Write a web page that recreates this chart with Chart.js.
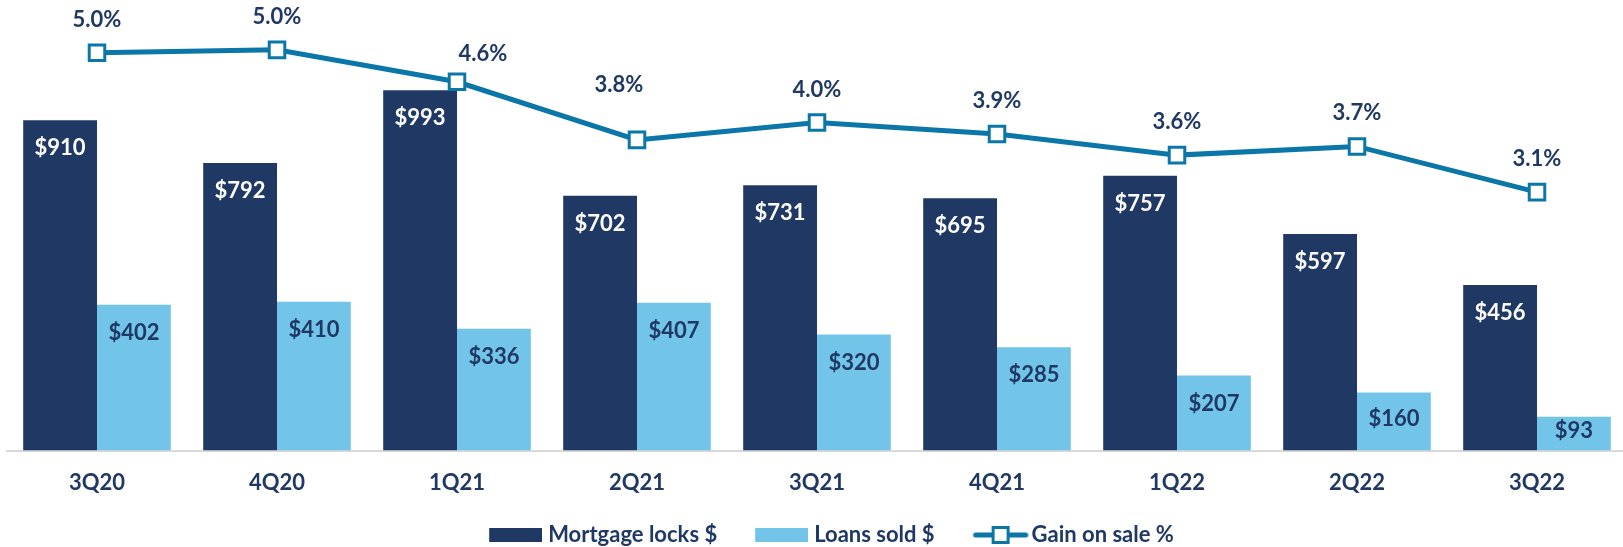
<!DOCTYPE html>
<html>
<head>
<meta charset="utf-8">
<script src="https://cdn.jsdelivr.net/npm/chart.js@4/dist/chart.umd.min.js"></script>
<style>
  html, body { margin: 0; padding: 0; background: #fff; overflow: hidden; }
  #wrap { width: 1640px; height: 547px; }
</style>
</head>
<body>
<div id="wrap"><canvas id="chart"></canvas></div>
<script>
// data
const quarters = ['3Q20', '4Q20', '1Q21', '2Q21', '3Q21', '4Q21', '1Q22', '2Q22', '3Q22'];
const mortgageLocks = [910, 792, 993, 702, 731, 695, 757, 597, 456];
const loansSold = [402, 410, 336, 407, 320, 285, 207, 160, 93];
const gainOnSale = [4.98, 5.02, 4.58, 3.78, 4.02, 3.86, 3.57, 3.69, 3.06];

const NAVY = '#1f3864';
const LIGHT = '#72c5e8';
const LINE = '#0b76a8';
const FONT = 'Lato, "Open Sans", sans-serif';

// a couple of % labels were nudged by hand on the slide
const pctLabelShift = { 2: [26, -28], 3: [-18, -55] };

// legend icons: transparent space on the left gives the gap between items
const ICON_W = 77;

function boxIcon(color) {
  const c = document.createElement('canvas');
  c.width = ICON_W + 10; c.height = 14;
  const g = c.getContext('2d');
  g.fillStyle = color;
  g.fillRect(c.width - 53, 0, 53, 14);
  return c;
}

function lineIcon() {
  const c = document.createElement('canvas');
  c.width = ICON_W + 16; c.height = 20;
  const g = c.getContext('2d');
  const x0 = c.width - 56;
  g.strokeStyle = LINE;
  g.lineWidth = 5;
  g.lineCap = 'round';
  g.beginPath(); g.moveTo(x0 + 3, 10); g.lineTo(x0 + 53, 10); g.stroke();
  g.fillStyle = '#fff';
  g.lineWidth = 3;
  g.fillRect(x0 + 20.5, 2.5, 15, 15);
  g.strokeRect(x0 + 20.5, 2.5, 15, 15);
  return c;
}

const legendIcons = [boxIcon(NAVY), boxIcon(LIGHT), lineIcon()];

const valueLabels = {
  id: 'valueLabels',
  afterDatasetsDraw(chart) {
    const ctx = chart.ctx;
    ctx.save();
    ctx.font = 'bold 22px ' + FONT;
    ctx.textAlign = 'center';
    ctx.textBaseline = 'middle';
    chart.data.datasets.forEach((ds, i) => {
      const meta = chart.getDatasetMeta(i);
      meta.data.forEach((el, j) => {
        const v = ds.data[j];
        if (meta.type === 'bar') {
          const h = el.base - el.y;
          ctx.fillStyle = i === 0 ? '#ffffff' : NAVY;
          ctx.fillText('$' + v, el.x, el.y + Math.min(28, h / 2 - 3));
        } else {
          const s = pctLabelShift[j] || [0, -33];
          ctx.fillStyle = NAVY;
          ctx.fillText(v.toFixed(1) + '%', el.x + s[0], el.y + s[1]);
        }
      });
    });
    ctx.restore();
  }
};

new Chart(document.getElementById('chart'), {
  data: {
    labels: quarters,
    datasets: [
      {
        type: 'bar',
        label: 'Mortgage locks $',
        data: mortgageLocks,
        backgroundColor: NAVY,
        yAxisID: 'y',
        order: 2,
        categoryPercentage: 0.82,
        barPercentage: 1.0
      },
      {
        type: 'bar',
        label: 'Loans sold $',
        data: loansSold,
        backgroundColor: LIGHT,
        yAxisID: 'y',
        order: 2,
        categoryPercentage: 0.82,
        barPercentage: 1.0
      },
      {
        type: 'line',
        label: 'Gain on sale %',
        data: gainOnSale,
        borderColor: LINE,
        borderWidth: 5,
        tension: 0,
        pointStyle: 'rect',
        pointRadius: 11,
        pointBorderWidth: 3,
        pointBackgroundColor: '#ffffff',
        pointBorderColor: LINE,
        yAxisID: 'y1',
        order: 1
      }
    ]
  },
  options: {
    responsive: true,
    maintainAspectRatio: false,
    animation: false,
    layout: { autoPadding: false, padding: { top: 15, left: 7, right: 13, bottom: -9 } },
    plugins: {
      tooltip: { enabled: false },
      legend: {
        position: 'bottom',
        labels: {
          usePointStyle: true,
          pointStyleWidth: ICON_W,
          padding: 9,
          color: NAVY,
          font: { family: FONT, size: 22, weight: 'bold' },
          generateLabels(chart) {
            const items = Chart.defaults.plugins.legend.labels.generateLabels(chart);
            items.sort((a, b) => a.datasetIndex - b.datasetIndex);
            items.forEach(it => { it.pointStyle = legendIcons[it.datasetIndex]; });
            return items;
          }
        }
      }
    },
    scales: {
      x: {
        grid: { display: false, drawTicks: false },
        border: { display: true, color: '#d9d9d9', width: 2 },
        ticks: {
          color: NAVY,
          padding: 19,
          font: { family: FONT, size: 22, weight: 'bold' }
        }
      },
      y: { display: false, min: 0, max: 1200 },
      y1: { display: false, min: -0.5, max: 5.5 }
    }
  },
  plugins: [valueLabels]
});
</script>
</body>
</html>
